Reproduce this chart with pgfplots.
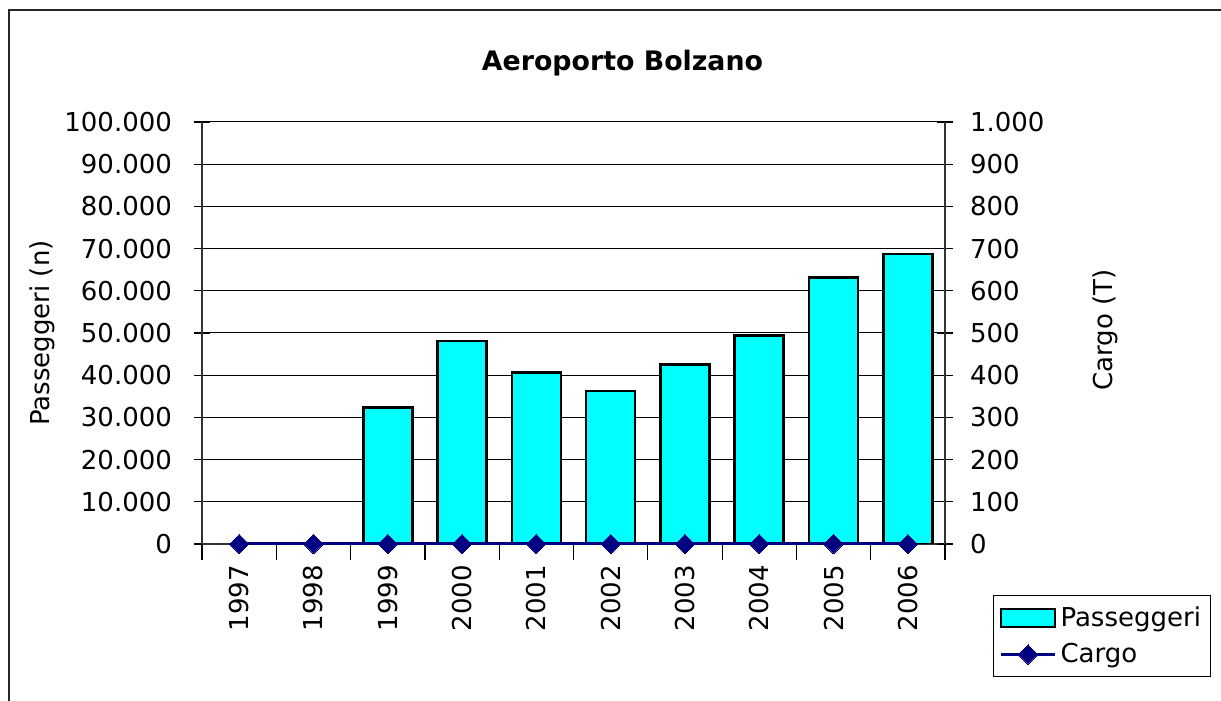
\documentclass[border=0pt]{standalone}
\usepackage{fontspec}
\setmainfont{DejaVu Sans}
\usepackage{pgfplots}
\pgfplotsset{compat=1.18}
\definecolor{navyc}{HTML}{000080}
\definecolor{aqua}{HTML}{00FFFF}
\pgfplotsset{
  mybarlegend/.style={legend image code/.code={\draw[##1] (0pt,-4.5pt) rectangle (27pt,4.5pt);}},
  mylinelegend/.style={legend image code/.code={\draw[##1, mark repeat=2, mark phase=2] plot coordinates {(0pt,0pt) (13.5pt,0pt) (27pt,0pt)};}},
}
\pgfplotstableread{
x pass
2 32400
3 48100
4 40600
5 36300
6 42500
7 49400
8 63200
9 68700
}\passtable
\pgfplotstableread{
x cargo
0 0
1 0
2 0
3 0
4 0
5 0
6 0
7 0
8 0
9 0
}\cargotable
\begin{document}
\begin{tikzpicture}[font=\fontsize{13}{15.6}\selectfont]
\path[use as bounding box] (0,0) rectangle (610.5pt,350.5pt);
\draw[line width=1pt, black!85] (4.5pt,-2pt) -- (4.5pt,345.5pt) -- (612pt,345.5pt);
\node[font=\fontsize{13.4}{16}\selectfont\bfseries] at (311.25pt,318.8pt) {Aeroporto Bolzano};
\node[rotate=90] at (21pt,184pt) {Passeggeri (n)};
\node[rotate=90] at (552.5pt,185.5pt) {Cargo (T)};
\begin{axis}[
  at={(101pt,78.5pt)}, anchor=south west, scale only axis,
  width=371.5pt, height=211pt,
  xmin=-0.5, xmax=9.5, ymin=0, ymax=100000,
  axis x line*=bottom, axis y line*=left,
  axis line style={line width=0.9pt, black!80},
  xtick={-0.5,0.5,...,9.5}, xticklabels={},
  extra x ticks={0,1,2,3,4,5,6,7,8,9},
  extra x tick labels={1997,1998,1999,2000,2001,2002,2003,2004,2005,2006},
  extra x tick style={major tick length=0pt},
  xticklabel style={rotate=90, anchor=east, font=\fontsize{13}{15.6}\selectfont},
  xticklabel shift=7pt,
  ytick={0,10000,...,100000},
  scaled y ticks=false,
  yticklabel style={font=\fontsize{13}{15.6}\selectfont, /pgf/number format/.cd, fixed, 1000 sep={.}, assume math mode=true},
  yticklabel shift=7.5pt,
  tick align=center, major tick length=8pt,
  tick style={line width=0.6pt, black},
  ymajorgrids, grid style={line width=0.5pt, black},
  ybar, bar width=24.5pt,
]
\addplot[ybar, fill=aqua, draw=black, line width=1.3pt] table[x=x, y=pass] {\passtable};
\end{axis}
\begin{axis}[
  at={(101pt,78.5pt)}, anchor=south west, scale only axis,
  width=371.5pt, height=211pt,
  xmin=-0.5, xmax=9.5, ymin=0, ymax=1000,
  axis y line*=right, axis x line=none,
  axis line style={line width=0.9pt, black!80},
  ytick={0,100,...,1000},
  scaled y ticks=false,
  yticklabel style={font=\fontsize{13}{15.6}\selectfont, /pgf/number format/.cd, fixed, 1000 sep={.}, assume math mode=true},
  yticklabel shift=5pt,
  tick align=center, major tick length=8pt,
  tick style={line width=0.6pt, black},
  clip=false,
  legend style={at={(1.0646,-0.1209)}, anchor=north west, draw=black, line width=0.5pt,
    font=\fontsize{13}{15.6}\selectfont, row sep=3pt, inner xsep=3pt, inner ysep=3.5pt,
    cells={anchor=west}},
]
\addlegendimage{mybarlegend, fill=aqua, draw=black, line width=1.3pt}
\addlegendentry{Passeggeri}
\addplot[navyc, line width=1.5pt, mark=square*, mark size=3.4pt, mark options={fill=navyc, line width=0pt, rotate=45}, mylinelegend]
  table[x=x, y=cargo] {\cargotable};
\addlegendentry{Cargo}
\end{axis}
\end{tikzpicture}
\end{document}
